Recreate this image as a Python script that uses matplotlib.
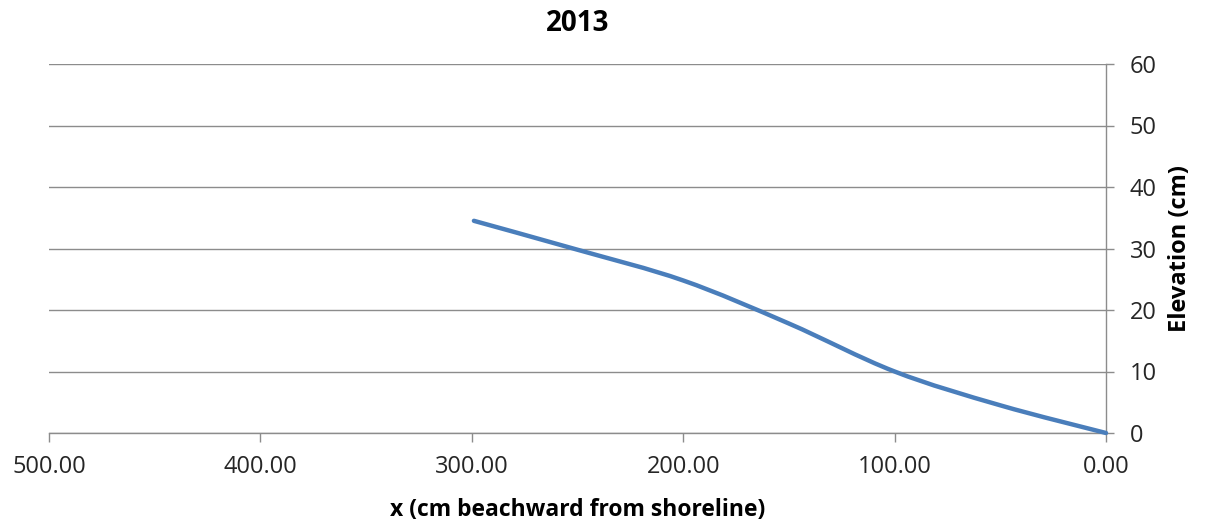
import matplotlib
matplotlib.use("Agg")
import matplotlib.pyplot as plt
from matplotlib.path import Path
from matplotlib.patches import PathPatch
import numpy as np

plt.rcParams['font.family'] = ['Open Sans', 'DejaVu Sans']

title = "2013"
x_label = "x (cm beachward from shoreline)"
y_label = "Elevation (cm)"

# Beach profile: distance from shoreline (cm) and elevation (cm)
distance = [299, 250, 200, 150, 100, 50, 0]
elevation = [34.5, 29.8, 24.8, 17.8, 10.0, 4.5, 0.0]

x_ticks = [500, 400, 300, 200, 100, 0]
y_ticks = [0, 10, 20, 30, 40, 50, 60]

line_color = "#4A7EBB"
grid_color = "#8C8C8C"
text_color = "#262626"

fig = plt.figure(figsize=(12.09, 5.27), dpi=100)
ax = fig.add_axes([49 / 1209, 1 - 433 / 527, (1106 - 49) / 1209, (433 - 64) / 527])

ax.set_xlim(500, 0)
ax.set_ylim(0, 60)


def smooth_path(xs, ys, tension=1 / 6):
    """Cubic Bezier path through the points (Catmull-Rom style smoothing)."""
    pts = np.column_stack([xs, ys]).astype(float)
    verts = [pts[0]]
    codes = [Path.MOVETO]
    n = len(pts)
    for i in range(n - 1):
        p0 = pts[i - 1] if i > 0 else pts[i]
        p1 = pts[i]
        p2 = pts[i + 1]
        p3 = pts[i + 2] if i + 2 < n else pts[i + 1]
        c1 = p1 + (p2 - p0) * tension
        c2 = p2 - (p3 - p1) * tension
        verts += [c1, c2, p2]
        codes += [Path.CURVE4] * 3
    return Path(verts, codes)


patch = PathPatch(smooth_path(distance, elevation), facecolor="none",
                  edgecolor=line_color, lw=3.2, capstyle="round",
                  joinstyle="round", zorder=3, clip_on=False)
ax.add_patch(patch)

# Axes styling
for side in ("top", "left"):
    ax.spines[side].set_visible(False)
for side in ("bottom", "right"):
    ax.spines[side].set_color(grid_color)
    ax.spines[side].set_linewidth(1.0)

ax.yaxis.tick_right()
ax.yaxis.set_label_position("right")
ax.set_xticks(x_ticks)
ax.set_xticklabels([f"{v:.2f}" for v in x_ticks])
ax.set_yticks(y_ticks)
ax.set_yticklabels([str(v) for v in y_ticks])
ax.tick_params(axis="x", direction="out", length=6.5, width=1, color=grid_color,
               labelsize=17, labelcolor=text_color, pad=9)
ax.tick_params(axis="y", direction="out", length=6, width=1, color=grid_color,
               labelsize=17, labelcolor=text_color, pad=11)

ax.grid(axis="y", color=grid_color, linewidth=1.0)
ax.set_axisbelow(True)

ax.set_title(title, fontsize=20, fontweight="bold", pad=24, color="black")
ax.set_xlabel(x_label, fontsize=16.5, fontweight="bold", labelpad=14, color="black")
ax.set_ylabel(y_label, fontsize=17, fontweight="bold", labelpad=8, color="black")

fig.savefig("out.png", dpi=100)
